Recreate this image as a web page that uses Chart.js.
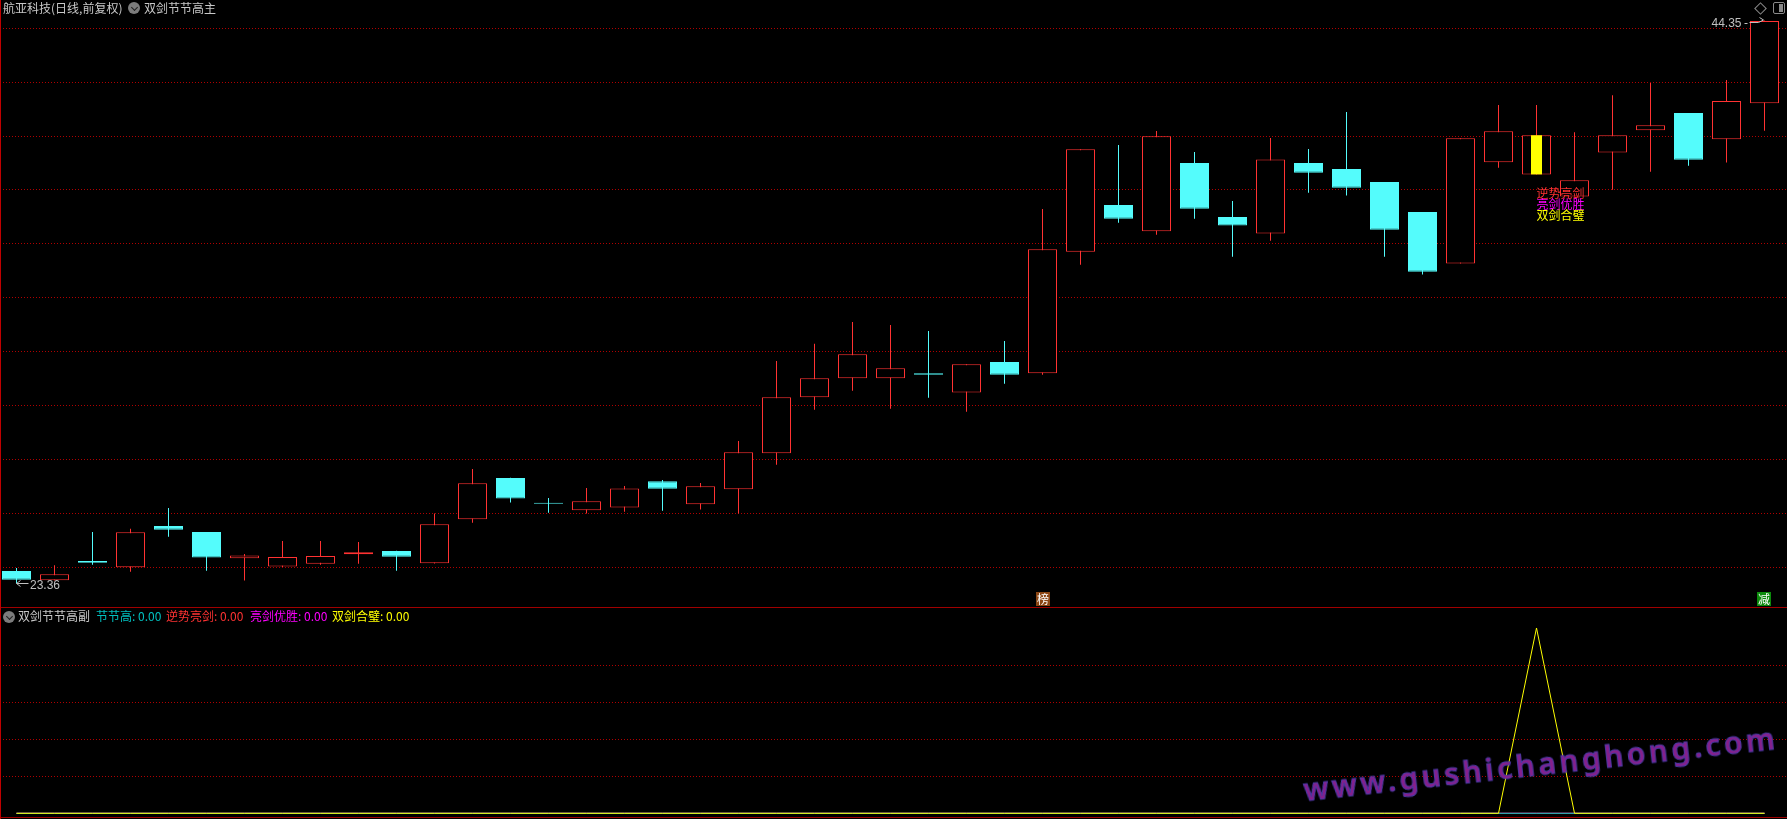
<!DOCTYPE html>
<html><head><meta charset="utf-8">
<script src="https://cdn.jsdelivr.net/npm/chart.js@4.4.0/dist/chart.umd.min.js"></script>
<style>
html,body{margin:0;padding:0;background:#000;width:1787px;height:819px;overflow:hidden;}
#wrap{position:relative;width:1787px;height:819px;background:#000;}
#mainBox{position:absolute;left:0;top:0;width:1787px;height:607px;}
#subBox{position:absolute;left:0;top:608px;width:1787px;height:211px;}
canvas{display:block;}
.txt{position:absolute;font-family:"Noto Sans CJK SC";font-size:12px;line-height:14px;white-space:nowrap;}
.icon{position:absolute;width:12px;height:12px;border-radius:50%;background:#7c7c7c;}
.icon:after{content:"";position:absolute;left:3.5px;top:2.5px;width:4px;height:4px;border-right:1.5px solid #202020;border-bottom:1.5px solid #202020;transform:rotate(45deg);}
.hline{position:absolute;left:0;width:1787px;height:1px;background:#a00000;}
#wm{position:absolute;left:1305px;top:775px;font-family:"Noto Sans";font-weight:600;font-size:30px;line-height:30px;letter-spacing:3.6px;color:#86208c;-webkit-text-stroke:1px #4a3aa8;transform-origin:0 27px;transform:rotate(-6.3deg);white-space:nowrap;}
</style></head>
<body><div id="wrap">
<div id="mainBox"><canvas id="main" width="1787" height="607"></canvas></div>
<div id="subBox"><canvas id="sub" width="1787" height="211"></canvas></div>
<div class="hline" style="top:607px;"></div>
<div class="hline" style="top:817px;"></div>
<div style="position:absolute;left:0;top:0;width:1px;height:819px;background:#c00000;"></div>
<div class="txt" style="left:3px;top:1px;color:#c8c8c8;">航亚科技(日线,前复权)</div>
<div class="icon" style="left:128px;top:2px;"></div>
<div class="txt" style="left:144px;top:1px;color:#c8c8c8;">双剑节节高主</div>
<div style="position:absolute;left:1756px;top:4px;width:7px;height:7px;border:1px solid #8a8a8a;transform:rotate(45deg);"></div>
<div style="position:absolute;left:1773px;top:2px;width:10px;height:10px;border:1px solid #8a8a8a;border-radius:2px;"><div style="position:absolute;right:1px;top:1px;width:4px;height:8px;background:#8a8a8a;"></div></div>
<div class="icon" style="left:3px;top:611px;"></div>
<div class="txt" style="left:18px;top:609px;color:#c8c8c8;">双剑节节高副</div>
<div id="leg1" class="txt" style="left:96px;top:609px;color:#00c0c0;"></div>
<div id="leg2" class="txt" style="left:166px;top:609px;color:#ff3232;"></div>
<div id="leg3" class="txt" style="left:250px;top:609px;color:#ff00ff;"></div>
<div id="leg4" class="txt" style="left:332px;top:609px;color:#ffff00;"></div>
<div id="wm">www.gushichanghong.com</div>
</div>
<script>
// ---- price data ----
const opens  = [23.82,23.47,24.19,23.96,25.50,25.27,24.29,23.99,24.09,24.44,24.56,24.11,25.75,27.29,26.36,26.08,26.19,27.17,26.31,26.87,28.21,30.30,31.01,31.01,31.19,30.48,31.61,31.19,35.73,37.47,36.49,39.04,37.02,36.41,39.04,38.81,38.33,37.21,35.29,39.06,38.61,37.79,39.43,40.26,40.90,39.92,41.26];
const highs  = [23.93,24.03,25.27,25.39,26.17,25.27,24.45,24.94,24.94,24.90,24.57,25.96,27.62,27.30,26.54,26.91,26.99,27.21,27.10,28.67,31.65,32.29,33.11,32.99,32.77,31.53,32.40,37.32,39.55,39.71,40.23,39.45,37.62,39.97,39.56,40.94,38.33,37.21,39.96,41.20,41.20,40.18,41.56,42.02,40.90,42.13,44.35];
const lows   = [23.36,23.46,24.05,23.79,25.10,23.83,23.46,23.97,24.05,24.09,23.83,24.10,25.62,26.37,25.99,25.96,26.03,26.07,26.11,25.96,27.78,29.83,30.54,29.87,30.28,29.76,30.80,31.14,35.24,36.81,36.36,36.96,35.54,36.14,37.93,37.82,35.54,34.88,35.29,38.86,38.61,37.79,38.04,38.71,38.93,39.05,40.24];
const closes = [23.49,23.70,24.13,25.26,25.36,24.32,24.40,24.34,24.38,24.52,24.35,25.56,27.09,26.52,26.33,26.42,26.90,26.89,26.98,28.25,30.30,31.01,31.90,31.38,31.14,31.53,31.14,35.82,39.55,36.96,40.03,37.33,36.70,39.17,38.67,38.11,36.55,34.98,39.96,40.22,40.07,38.39,40.07,40.44,39.16,41.35,44.33];
const gridValues = [44.06,42.05,40.04,38.03,36.02,34.01,32.00,29.99,27.98,25.97,23.96];
const markIndex = [40];
const signalIndex = 40;
const signalTexts = ['逆势亮剑','亮剑优胜','双剑合璧'];
const badgeIndex = [27,46];
const badgeTexts = ['榜','减'];
// ---- indicator data ----
const jieJieGao         = [0,0,0,0,0,0,0,0,0,0, 0,0,0,0,0,0,0,0,0,0, 0,0,0,0,0,0,0,0,0,0, 0,0,0,0,0,0,0,0,0,0, 0,0,0,0,0,0,0];
const niShiLiangJian    = [0,0,0,0,0,0,0,0,0,0, 0,0,0,0,0,0,0,0,0,0, 0,0,0,0,0,0,0,0,0,0, 0,0,0,0,0,0,0,0,0,0, 0,0,0,0,0,0,0];
const liangJianYouSheng = [0,0,0,0,0,0,0,0,0,0, 0,0,0,0,0,0,0,0,0,0, 0,0,0,0,0,0,0,0,0,0, 0,0,0,0,0,0,0,0,0,0, 0,0,0,0,0,0,0];
const shuangJianHeBi    = [0,0,0,0,0,0,0,0,0,0, 0,0,0,0,0,0,0,0,0,0, 0,0,0,0,0,0,0,0,0,0, 0,0,0,0,0,0,0,0,0,0, 100,0,0,0,0,0,0];
const subGridValues = [20,40,60,80];
const seriesNames = ['节节高','逆势亮剑','亮剑优胜','双剑合璧'];
</script>
<script>
const RED = '#ff3232', CYAN = '#54fcfc', YEL = '#ffff00', MAG = '#ff00ff', TEAL = '#00c0c0';
const GRID = '#b00000';
const xs = opens.map((_, i) => i);
const up = closes.map((c, i) => c >= opens[i]);
const step = 38;
const xMin = -16.5 / step, xMax = xMin + 1787 / step;

const mainLabels = {
  id: 'mainLabels',
  afterDatasetsDraw(chart) {
    const {ctx, chartArea, scales: {x, y}} = chart;
    ctx.save();
    ctx.strokeStyle = '#c0c0c0'; ctx.fillStyle = '#c0c0c0'; ctx.lineWidth = 1;
    ctx.font = '12px "Liberation Sans"';
    // highest
    const hi = highs.indexOf(Math.max(...highs));
    const hx = x.getPixelForValue(hi), hy = y.getPixelForValue(highs[hi]);
    ctx.textAlign = 'right'; ctx.textBaseline = 'middle';
    ctx.fillText(highs[hi].toFixed(2), hx - 23, hy + 3.5);
    ctx.beginPath();
    ctx.moveTo(hx - 20, Math.round(hy + 2) + 0.5); ctx.lineTo(hx - 17, Math.round(hy + 2) + 0.5);
    ctx.moveTo(hx - 15, Math.round(hy + 1) + 0.5); ctx.lineTo(hx - 6, Math.round(hy + 1) + 0.5); ctx.lineTo(hx - 1, hy - 0.5);
    ctx.moveTo(hx - 5, hy - 3); ctx.lineTo(hx - 1, hy - 0.5);
    ctx.stroke();
    // lowest
    const lo = lows.indexOf(Math.min(...lows));
    const lx = x.getPixelForValue(lo), ly = y.getPixelForValue(lows[lo]);
    ctx.beginPath();
    const ay = Math.round(ly) + 0.5;
    ctx.moveTo(lx + 12, ay); ctx.lineTo(lx, ay);
    ctx.moveTo(lx + 4, ay - 3); ctx.lineTo(lx, ay); ctx.lineTo(lx + 4, ay + 3);
    ctx.stroke();
    ctx.textAlign = 'left';
    ctx.fillText(lows[lo].toFixed(2), lx + 13.5, ly + 2.5);
    // signal texts
    const sx = x.getPixelForValue(signalIndex), sy = y.getPixelForValue(lows[signalIndex]);
    ctx.font = '12px "Noto Sans CJK SC"';
    const sc = [RED, MAG, YEL];
    signalTexts.forEach((t, k) => { ctx.fillStyle = sc[k]; ctx.fillText(t, sx, sy + 18.7 + k * 11.2); });
    // badges
    const bc = ['#8b4513', '#0b8a0b'];
    badgeIndex.forEach((i, k) => {
      const bx = x.getPixelForValue(i);
      ctx.fillStyle = bc[k];
      ctx.fillRect(Math.round(bx - 7), chartArea.bottom - 15, 14, 14);
      ctx.fillStyle = '#ffffff'; ctx.textAlign = 'center'; ctx.textBaseline = 'middle';
      ctx.fillText(badgeTexts[k], Math.round(bx), chartArea.bottom - 8);
    });
    ctx.restore();
  }
};

new Chart(document.getElementById('main'), {
  type: 'bar',
  data: {datasets: [
    {label: 'mark', data: markIndex.map(i => ({x: i, y: [opens[i], closes[i]]})), backgroundColor: YEL, borderWidth: 0, barThickness: 11, grouped: false, inflateAmount: 0},
    {label: 'body', data: xs.map(i => ({x: i, y: [opens[i], closes[i]]})), backgroundColor: up.map(u => u ? '#000000' : CYAN), borderColor: up.map(u => u ? RED : CYAN), borderWidth: 1, borderSkipped: false, barThickness: 29, grouped: false, inflateAmount: 0, minBarLength: 1},
    {label: 'wick', data: xs.map(i => ({x: i, y: [lows[i], highs[i]]})), backgroundColor: up.map(u => u ? RED : CYAN), borderWidth: 0, barThickness: 1, grouped: false, inflateAmount: 0}
  ]},
  options: {
    responsive: false, animation: false, devicePixelRatio: 1, layout: {padding: 0},
    plugins: {legend: {display: false}, tooltip: {enabled: false}},
    scales: {
      x: {type: 'linear', min: xMin, max: xMax, offset: false, display: false},
      y: {type: 'linear', min: 22.476, max: 45.115, display: true,
          ticks: {display: false}, grid: {color: GRID, drawTicks: false, lineWidth: 1},
          border: {display: false, dash: [1, 2]},
          afterBuildTicks: s => { s.ticks = gridValues.map(v => ({value: v})); }}
    }
  },
  plugins: [mainLabels]
});

const lineDs = (arr, color) => ({data: xs.map(i => ({x: i, y: arr[i]})), borderColor: color, borderWidth: 1, pointRadius: 0, tension: 0, fill: false});
new Chart(document.getElementById('sub'), {
  type: 'line',
  data: {datasets: [
    lineDs(shuangJianHeBi, YEL),
    lineDs(jieJieGao, TEAL),
    lineDs(niShiLiangJian, RED),
    lineDs(liangJianYouSheng, MAG)
  ]},
  options: {
    responsive: false, animation: false, devicePixelRatio: 1, layout: {padding: 0},
    plugins: {legend: {display: false}, tooltip: {enabled: false}},
    scales: {
      x: {type: 'linear', min: xMin, max: xMax, offset: false, display: false},
      y: {type: 'linear', min: -3.076, max: 110.79, display: true,
          ticks: {display: false}, grid: {color: GRID, drawTicks: false, lineWidth: 1},
          border: {display: false, dash: [1, 2]},
          afterBuildTicks: s => { s.ticks = subGridValues.map(v => ({value: v})); }}
    }
  }
});

const series = [jieJieGao, niShiLiangJian, liangJianYouSheng, shuangJianHeBi];
['leg1','leg2','leg3','leg4'].forEach((id, k) => {
  document.getElementById(id).textContent = seriesNames[k] + ': ' + series[k][series[k].length - 1].toFixed(2);
});
</script>
</body></html>
